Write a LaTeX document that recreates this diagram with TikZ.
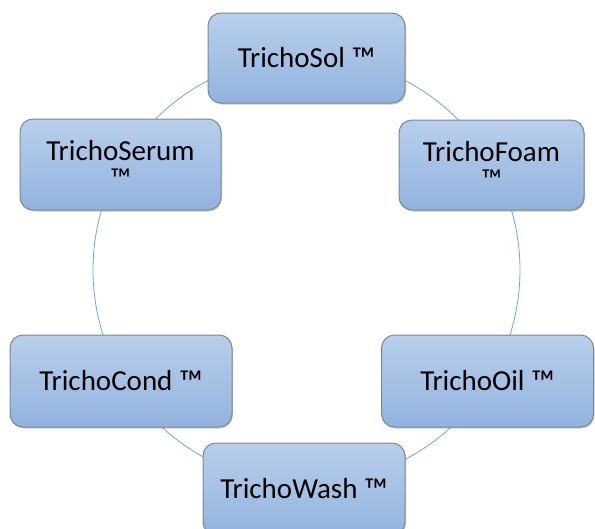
\documentclass[tikz,border=0pt]{standalone}
\usepackage{fontspec}
\usepackage{graphicx}
\setmainfont{Carlito}
\usetikzlibrary{shadows}
\definecolor{ringblue}{HTML}{6FA6DC}
\definecolor{boxtop}{HTML}{B9CFEB}
\definecolor{boxbot}{HTML}{92B3DF}
\definecolor{boxedge}{HTML}{7D8896}
\newcommand{\tmark}{\raisebox{-0.09em}[0pt][0pt]{\scalebox{1.15}{™}}}
\tikzset{
  prodbox/.style={draw=boxedge, line width=1pt, rounded corners=13pt,
    top color=boxtop, bottom color=boxbot, align=center,
    font=\fontsize{29}{34}\selectfont, inner sep=0pt,
    drop shadow={shadow xshift=1pt, shadow yshift=-1.5pt, opacity=0.35, fill=black!60}},
  ring/.style={draw=ringblue, line width=0.8pt}
}
\begin{document}
\begin{tikzpicture}[x=1pt,y=-1pt]
\useasboundingbox (0,0) rectangle (595,528);
\coordinate (c) at (306.5,270);
\draw[ring] (c) circle (213.5);
\node[prodbox, minimum width=197pt, minimum height=90pt] (sol) at (306.5,58) {TrichoSol \tmark};
\node[prodbox, minimum width=201pt, minimum height=91pt] (serum) at (120.5,164.5) {TrichoSerum\\[-6pt]™};
\node[prodbox, minimum width=185pt, minimum height=90pt] (foam) at (491.5,165) {TrichoFoam\\[-6pt]™};
\node[prodbox, minimum width=222pt, minimum height=92pt] (cond) at (121,381) {TrichoCond \tmark};
\node[prodbox, minimum width=212pt, minimum height=92pt] (oil) at (487.5,381) {TrichoOil \tmark};
\node[prodbox, minimum width=202pt, minimum height=92pt] (wash) at (304,489) {TrichoWash \tmark};
\end{tikzpicture}
\end{document}
